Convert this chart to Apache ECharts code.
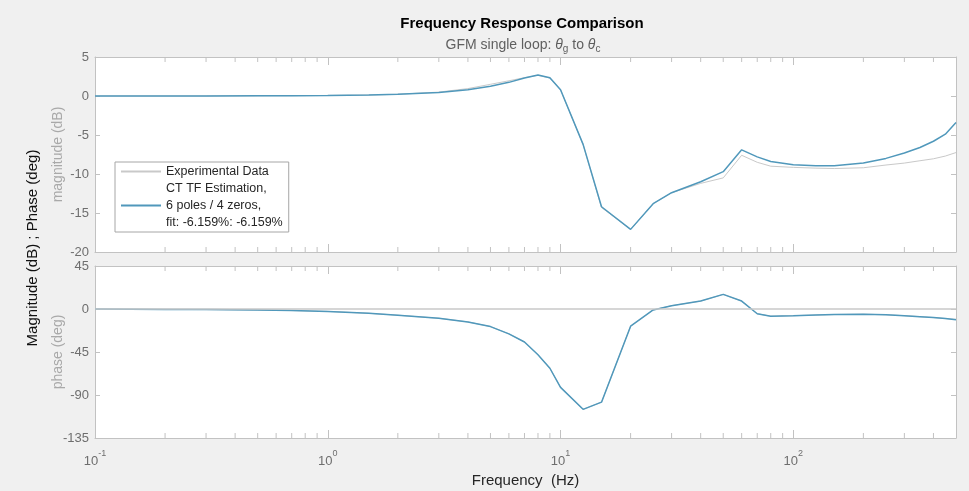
<!DOCTYPE html>
<html>
<head>
<meta charset="utf-8">
<script src="https://cdn.jsdelivr.net/npm/echarts@6/dist/echarts.min.js"></script>
<style>
  html, body { margin: 0; padding: 0; background: #f0f0f0; }
  #chart { width: 969px; height: 491px; }
</style>
</head>
<body>
<div id="chart"></div>
<script>
// Frequency points (Hz)
const freqHz = [0.1, 0.2, 0.3, 0.5, 0.7, 1, 1.5, 2, 3, 4, 5, 6, 7, 8, 9, 10, 12.5, 15, 20, 25, 30, 40, 50, 60, 70, 80, 100, 125, 150, 200, 250, 300, 350, 400, 450, 500];

// Magnitude (dB)
const magMeasured = [0, 0, 0, 0.02, 0.04, 0.07, 0.13, 0.22, 0.5, 0.95, 1.5, 1.95, 2.35, 2.65, 2.3, 0.8, -6.2, -14.3, -17.1, -13.8, -12.4, -11.2, -10.5, -7.6, -8.5, -9.0, -9.15, -9.25, -9.3, -9.2, -8.85, -8.6, -8.3, -8.05, -7.7, -7.25];
const magModel    = [0, 0, 0, 0.02, 0.04, 0.07, 0.13, 0.22, 0.45, 0.8, 1.25, 1.75, 2.3, 2.7, 2.35, 0.8, -6.2, -14.2, -17.1, -13.8, -12.4, -11.0, -9.7, -6.9, -7.8, -8.4, -8.8, -8.95, -8.95, -8.6, -8.0, -7.3, -6.6, -5.8, -4.9, -3.4];

// Phase (deg)
const phaseMeasured = [0, -0.4, -0.6, -1.0, -1.6, -2.5, -4.5, -6.5, -9.7, -13.5, -18.4, -26, -34.5, -47.9, -62, -82, -105, -97.5, -18, -1, 3.5, 8.3, 15.3, 8.3, -5, -7.5, -7, -6.3, -5.8, -5.5, -6, -7, -8, -9, -10, -10.8];
const phaseModel    = [0, -0.4, -0.6, -1.0, -1.6, -2.5, -4.5, -6.5, -9.7, -13.5, -18.4, -26, -34.5, -47.9, -62, -82, -105, -97.5, -18, -1, 3.5, 8.3, 15.3, 8.3, -5, -7.5, -7, -6.3, -5.8, -5.5, -6, -7, -8, -9, -10, -11.2];

// Axis ranges and ticks
const freqRange = [0.1, 500];
const magRange = [-20, 5];
const magStep = 5;
const phaseRange = [-135, 45];
const phaseStep = 45;
const minorTickFreqs = [0.2, 0.3, 0.4, 0.5, 0.6, 0.7, 0.8, 0.9, 2, 3, 4, 5, 6, 7, 8, 9, 20, 30, 40, 50, 60, 70, 80, 90, 200, 300, 400];

const seriesNames = ['Experimental Data', 'CT TF Estimation,\n6 poles / 4 zeros,\nfit: -6.159%: -6.159%'];

const FONT = '"Liberation Sans", Arial, Helvetica, sans-serif';
const BOX = '#c2c2c2';
const LABEL = '#6e6e6e';
const GRAY = '#c9c9c9';
const BLUE = '#5098bb';

const pairs = arr => freqHz.map((f, i) => [f, arr[i]]);

function decadeLabel(v) {
  const l = Math.log10(v);
  const e = Math.round(l);
  if (Math.abs(l - e) > 1e-6) return '';
  return '{b|10}{s|' + e + '}';
}

function xAxisFor(gridIndex, position, showLabels) {
  const ax = {
    type: 'log', logBase: 10, gridIndex, position,
    min: freqRange[0], max: freqRange[1],
    axisLine: { show: true, onZero: false, lineStyle: { color: BOX, width: 1 } },
    axisTick: { show: true, inside: true, length: 8, lineStyle: { color: BOX } },
    splitLine: { show: false },
    minorTick: { show: false },
    axisLabel: { show: false }
  };
  if (showLabels) {
    ax.axisLabel = {
      show: true, margin: 11, formatter: decadeLabel, fontFamily: FONT,
      rich: {
        b: { fontSize: 13, color: LABEL, fontFamily: FONT, padding: [6, 0, 0, 0] },
        s: { fontSize: 9, color: LABEL, fontFamily: FONT, verticalAlign: 'top' }
      }
    };
    ax.name = 'Frequency  (Hz)';
    ax.nameLocation = 'middle';
    ax.nameGap = 35;
    ax.nameMoveOverlap = false;
    ax.nameTextStyle = { fontSize: 15, color: '#262626', fontFamily: FONT };
  }
  return ax;
}

function yAxisFor(gridIndex, position, range, step, name) {
  const ax = {
    type: 'value', gridIndex, position,
    min: range[0], max: range[1], interval: step,
    axisLine: { show: true, onZero: false, lineStyle: { color: BOX, width: 1 } },
    axisTick: { show: true, inside: true, length: 5, lineStyle: { color: BOX } },
    splitLine: { show: false },
    axisLabel: { show: !!name, fontSize: 13, color: LABEL, fontFamily: FONT, margin: 6 }
  };
  if (name) {
    ax.name = name;
    ax.nameLocation = 'middle';
    ax.nameGap = 30;
    ax.nameMoveOverlap = false;
    ax.nameTextStyle = { fontSize: 14, color: '#a9a9a9', fontFamily: FONT };
  }
  return ax;
}

// Short log-spaced ticks along the top and bottom edges of a panel
function minorTickSeries(axisIndex, yr) {
  return {
    type: 'custom', xAxisIndex: axisIndex * 2, yAxisIndex: axisIndex * 2,
    silent: true, clip: false, z: 5,
    data: minorTickFreqs.map(f => [f, yr[0]]),
    renderItem(params, api) {
      const f = api.value(0);
      const b = api.coord([f, yr[0]]);
      const t = api.coord([f, yr[1]]);
      const st = { stroke: BOX, lineWidth: 1 };
      return {
        type: 'group',
        children: [
          { type: 'line', shape: { x1: b[0], y1: b[1], x2: b[0], y2: b[1] - 5 }, style: st },
          { type: 'line', shape: { x1: t[0], y1: t[1], x2: t[0], y2: t[1] + 5 }, style: st }
        ]
      };
    }
  };
}

const chart = echarts.init(document.getElementById('chart'), null, { renderer: 'canvas' });

chart.setOption({
  animation: false,
  backgroundColor: '#f0f0f0',
  textStyle: { fontFamily: FONT },
  grid: [
    { left: 95, top: 57, width: 861, height: 195, show: true, backgroundColor: '#ffffff', borderWidth: 0 },
    { left: 95, top: 266, width: 861, height: 172, show: true, backgroundColor: '#ffffff', borderWidth: 0 }
  ],
  xAxis: [
    xAxisFor(0, 'bottom', false),
    xAxisFor(0, 'top', false),
    xAxisFor(1, 'bottom', true),
    xAxisFor(1, 'top', false)
  ],
  yAxis: [
    yAxisFor(0, 'left', magRange, magStep, 'magnitude (dB)'),
    yAxisFor(0, 'right', magRange, magStep, null),
    yAxisFor(1, 'left', phaseRange, phaseStep, 'phase (deg)'),
    yAxisFor(1, 'right', phaseRange, phaseStep, null)
  ],
  legend: {
    data: seriesNames,
    orient: 'vertical',
    left: 115, top: 162,
    selectedMode: false,
    backgroundColor: '#ffffff',
    borderColor: '#a6a6a6', borderWidth: 1, borderRadius: 0,
    padding: [1, 6, 1, 5],
    itemWidth: 40, itemHeight: 14, itemGap: 0,
    itemStyle: { opacity: 0 },
    textStyle: { fontSize: 12.5, color: '#262626', fontFamily: FONT, lineHeight: 17 }
  },
  graphic: [
    {
      type: 'text', silent: true,
      style: { text: 'Frequency Response Comparison', x: 522, y: 24, align: 'center', verticalAlign: 'middle',
               font: 'bold 15px ' + FONT, fill: '#000000' }
    },
    {
      type: 'text', silent: true,
      style: {
        text: '{a|GFM single loop: }{t|θ}{g|g}{a| to }{t|θ}{g|c}', x: 523, y: 45, align: 'center', verticalAlign: 'middle',
        rich: {
          a: { fontSize: 14, fill: '#5f5f5f', fontFamily: FONT },
          t: { fontSize: 14, fill: '#5f5f5f', fontFamily: FONT, fontStyle: 'italic' },
          g: { fontSize: 10, fill: '#5f5f5f', fontFamily: FONT, padding: [9, 0, 0, 0] }
        }
      }
    },
    {
      type: 'text', silent: true, x: 33, y: 248, rotation: Math.PI / 2,
      style: { text: 'Magnitude (dB) ; Phase (deg)', x: 0, y: 0, align: 'center', verticalAlign: 'middle',
               font: '15px ' + FONT, fill: '#111111' }
    }
  ],
  series: [
    {
      name: seriesNames[0], type: 'line', xAxisIndex: 0, yAxisIndex: 0,
      data: pairs(magMeasured), symbol: 'none', z: 2,
      lineStyle: { color: GRAY, width: 1 }, itemStyle: { color: GRAY }
    },
    {
      name: seriesNames[1], type: 'line', xAxisIndex: 0, yAxisIndex: 0,
      data: pairs(magModel), symbol: 'none', z: 3,
      lineStyle: { color: BLUE, width: 1.5 }, itemStyle: { color: BLUE }
    },
    {
      name: seriesNames[0], type: 'line', xAxisIndex: 2, yAxisIndex: 2,
      data: pairs(phaseMeasured), symbol: 'none', z: 2,
      lineStyle: { color: GRAY, width: 1 }, itemStyle: { color: GRAY },
      markLine: {
        silent: true, symbol: 'none', label: { show: false },
        lineStyle: { color: GRAY, width: 1.5, type: 'solid' },
        data: [{ yAxis: 0 }]
      }
    },
    {
      name: seriesNames[1], type: 'line', xAxisIndex: 2, yAxisIndex: 2,
      data: pairs(phaseModel), symbol: 'none', z: 3,
      lineStyle: { color: BLUE, width: 1.5 }, itemStyle: { color: BLUE }
    },
    minorTickSeries(0, magRange),
    minorTickSeries(1, phaseRange)
  ]
});
</script>
</body>
</html>
